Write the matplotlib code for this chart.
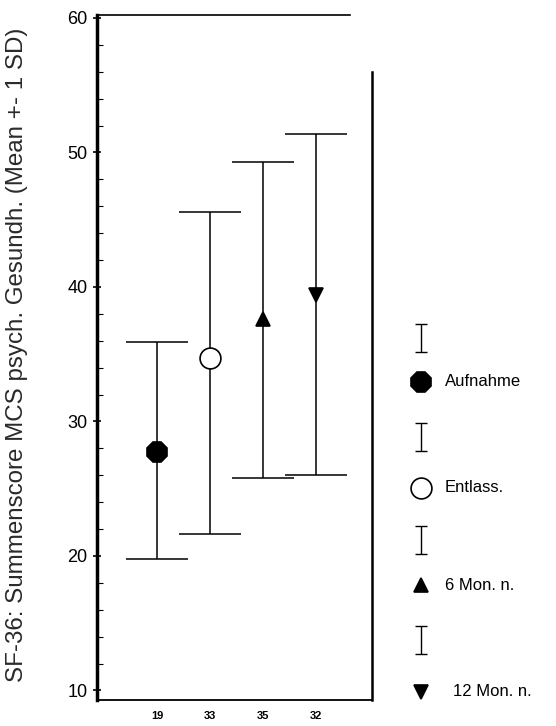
import numpy as np
import matplotlib
matplotlib.use("Agg")
import matplotlib.pyplot as plt
from matplotlib.ticker import MultipleLocator

plt.rcParams["font.family"] = ["Liberation Sans", "DejaVu Sans"]

groups = ["Aufnahme", "Entlass.", "6 Mon. n.", "12 Mon. n."]
n_labels = ["19", "33", "35", "32"]
means = [27.7, 34.7, 37.6, 39.4]
upper = [35.9, 45.6, 49.3, 51.4]
lower = [19.8, 21.6, 25.8, 26.0]
markers = ["8", "o", "^", "v"]
fills = ["black", "white", "black", "black"]
sizes = [15, 15, 10, 10]

x = np.arange(1, len(groups) + 1)
means_arr = np.array(means)
yerr = [means_arr - np.array(lower), np.array(upper) - means_arr]

fig = plt.figure(figsize=(5.56, 7.26), dpi=100)
ax = fig.add_axes([0.174, 0.036, 0.495, 0.943])

ax.errorbar(x, means, yerr=yerr, fmt="none", ecolor="black",
            elinewidth=1.1, capsize=22, capthick=1.1)
for xi, m, mk, fc, s in zip(x, means, markers, fills, sizes):
    ax.plot(xi, m, marker=mk, markersize=s, markerfacecolor=fc,
            markeredgecolor="black", markeredgewidth=1.2, linestyle="none", zorder=3)

ax.set_xlim(-0.15, 5.06)
ax.set_ylim(9.3, 60.2)
ax.set_xticks(x)
ax.set_xticklabels(n_labels, fontsize=8, fontweight="bold")
ax.tick_params(axis="x", length=0, pad=8)
ax.yaxis.set_major_locator(MultipleLocator(10))
ax.yaxis.set_minor_locator(MultipleLocator(2))
ax.tick_params(axis="y", which="major", direction="inout", length=6, width=1.2, labelsize=13)
ax.tick_params(axis="y", which="minor", direction="in", length=4, width=0.8)
ax.set_ylabel("SF-36: Summenscore MCS psych. Gesundh. (Mean +- 1 SD)",
              fontsize=17.4, color="#2a2a2a")
ax.yaxis.set_label_coords(-0.25, 0.504)

ax.spines["left"].set_linewidth(2.5)
ax.spines["bottom"].set_linewidth(1.3)
ax.spines["top"].set_linewidth(1.2)
ax.spines["right"].set_linewidth(1.8)
ax.spines["right"].set_bounds(9.3, 56)
ax.spines["top"].set_bounds(-0.15, 4.64)

# legend drawn at the right of the plot
lax = fig.add_axes([0.70, 0.0, 0.30, 1.0])
lax.set_xlim(0, 1)
lax.set_ylim(726, 0)
lax.axis("off")
bar_y = [338, 437, 540, 640]
mark_y = [382, 488, 585, 692]
for by, my, mk, fc, s, g in zip(bar_y, mark_y, markers, fills, sizes, groups):
    lax.errorbar(0.19, by, yerr=14, fmt="none", ecolor="black",
                 elinewidth=1.0, capsize=4.5, capthick=1.0)
    lax.plot(0.19, my, marker=mk, markersize=s, markerfacecolor=fc,
             markeredgecolor="black", markeredgewidth=1.2, linestyle="none")
    lax.text(0.335 if g != "12 Mon. n." else 0.38, my, g, fontsize=12,
             va="center", ha="left")

fig.savefig("out.png", dpi=100)
